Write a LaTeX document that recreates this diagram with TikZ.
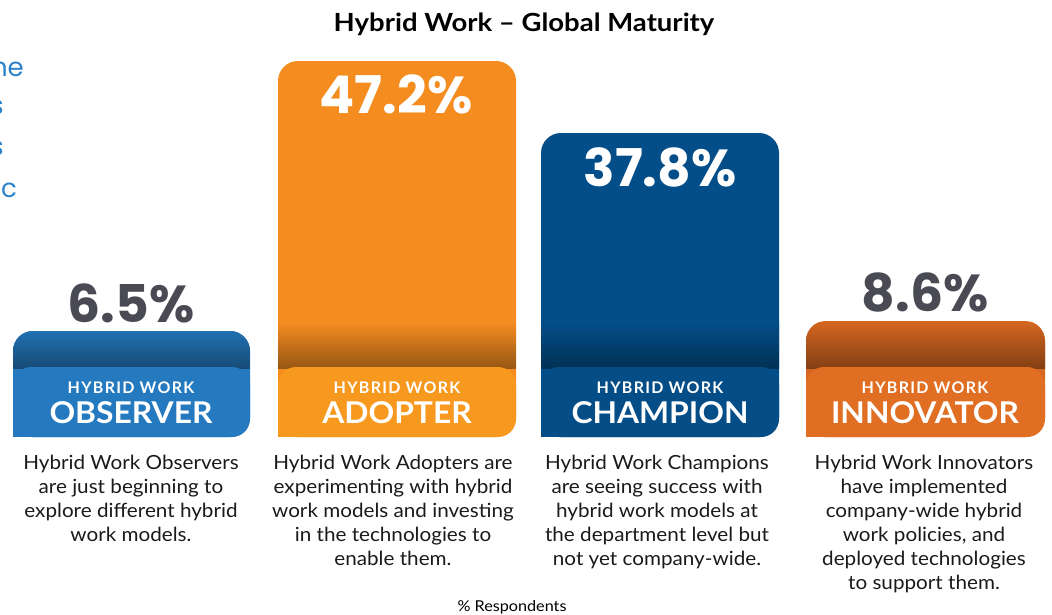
\documentclass[tikz,border=0pt]{standalone}
\usepackage{fontspec}
\setmainfont{Lato}
\newfontfamily\pctfont{Poppins}
\usetikzlibrary{positioning}
\definecolor{obsbar}{HTML}{2479BF}
\definecolor{obstab}{HTML}{2479BF}
\definecolor{adobar}{HTML}{F58C20}
\definecolor{adotab}{HTML}{F8991F}
\definecolor{chabar}{HTML}{034E89}
\definecolor{chatab}{HTML}{044D87}
\definecolor{innbar}{HTML}{D46620}
\definecolor{inntab}{HTML}{E06F24}
\definecolor{pctgray}{HTML}{4A4A55}
\definecolor{bodytext}{HTML}{1A1A1A}
\definecolor{fragblue}{HTML}{2A80C9}
\tikzset{pct/.style={font=\pctfont\bfseries\fontsize{52}{52}\selectfont, inner sep=0, anchor=base},
	pctdark/.style={pct, text=pctgray},
	pctlight/.style={pct, text=white},
	kicker/.style={font=\bfseries\fontsize{16}{16}\selectfont\addfontfeature{LetterSpace=8}, text=white, inner sep=0, anchor=base},
	level/.style={font=\bfseries\fontsize{30}{30}\selectfont\addfontfeature{FakeStretch=1.06}, text=white, inner sep=0, anchor=base},
	desc/.style={font=\fontsize{19.5}{24}\selectfont\addfontfeature{FakeStretch=1.06}, text=bodytext, align=center, anchor=north, inner sep=0},
	frag/.style={font=\pctfont\fontsize{26}{26}\selectfont, text=fragblue, inner sep=0, anchor=base east} }

% bar with its label tab: x1, x2, top, bar colour, tab colour
\newcommand{\hwbar}[5]{
	\fill[#4, rounded corners=20pt] (#1,#3) rectangle (#2,437);
	\fill[#4] (#1,437) rectangle ({#1+30},407);
	\begin{scope}
		\clip[rounded corners=20pt] (#1,#3) rectangle (#2,437);
		\shade[top color=#4, middle color=#4!88!black, bottom color=#4!62!black] (#1,322) rectangle (#2,368);
	\end{scope}
	\fill[#5, rounded corners=18pt] (#1,367) rectangle (#2,437);
	\fill[#5] (#1,437) rectangle ({#1+30},407);
}

\begin{document}
\begin{tikzpicture}[x=1pt, y=-1pt]
	\useasboundingbox (0,0) rectangle (1052,614);

	% cut-off text at the left edge
	\begin{scope}
		\clip (0,0) rectangle (1052,614);
		\node (f1) [frag] at (24,76) {ne};
		\node (f2) [frag] at (4,114) {s};
		\node (f3) [frag] at (4,155) {s};
		\node (f4) [frag] at (17,197) {c};
	\end{scope}

	\node (title) [font=\bfseries\fontsize{25}{25}\selectfont\addfontfeature{FakeStretch=1.1}, anchor=base] at (524,31) {Hybrid Work -- Global Maturity};

	\hwbar{13}{250}{331}{obsbar}{obstab}
	\hwbar{278}{516}{61}{adobar}{adotab}
	\hwbar{541}{779}{133}{chabar}{chatab}
	\hwbar{806}{1045}{321}{innbar}{inntab}

	\node (p1) [pctdark] at (131,322) {6.5\%};
	\node (p2) [pctlight] at (396,113) {47.2\%};
	\node (p3) [pctlight] at (660,186) {37.8\%};
	\node (p4) [pctdark] at (925,311) {8.6\%};

	\node (k1) [kicker] at (131,393) {HYBRID WORK};
	\node (l1) [level] at (131,423) {OBSERVER};
	\node (k2) [kicker] at (397,393) {HYBRID WORK};
	\node (l2) [level] at (397,423) {ADOPTER};
	\node (k3) [kicker] at (660,393) {HYBRID WORK};
	\node (l3) [level] at (660,423) {CHAMPION};
	\node (k4) [kicker] at (925,393) {HYBRID WORK};
	\node (l4) [level] at (925,423) {INNOVATOR};

	\node (d1) [desc] at (131,455) {Hybrid Work Observers\\are just beginning to\\explore different hybrid\\work models.};
	\node (d2) [desc] at (393,455) {Hybrid Work Adopters are\\experimenting with hybrid\\work models and investing\\in the technologies to\\enable them.};
	\node (d3) [desc] at (657,455) {Hybrid Work Champions\\are seeing success with\\hybrid work models at\\the department level but\\not yet company-wide.};
	\node (d4) [desc] at (924,455) {Hybrid Work Innovators\\have implemented\\company-wide hybrid\\work policies, and\\deployed technologies\\to support them.};

	\node (resp) [font=\fontsize{15}{15}\selectfont\addfontfeature{FakeStretch=1.08}, anchor=base] at (512,611) {\% Respondents};
\end{tikzpicture}
\end{document}
